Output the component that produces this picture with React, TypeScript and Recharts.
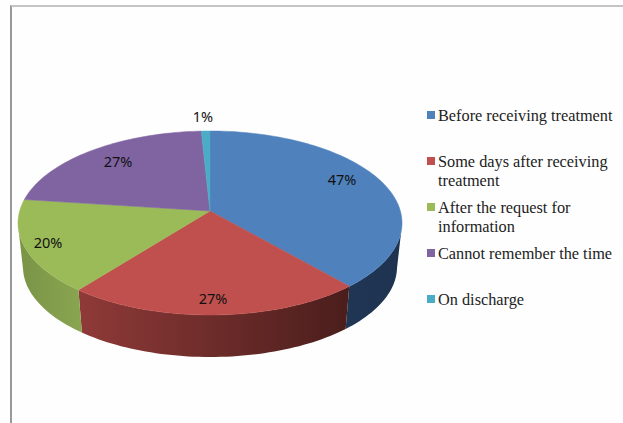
import React from 'react';
import { PieChart, Pie, Legend } from 'recharts';

const categories = [
  'Before receiving treatment',
  'Some days after receiving treatment',
  'After the request for information',
  'Cannot remember the time',
  'On discharge',
];
const values = [47, 27, 20, 27, 1];
const colors = ['#4f81bd', '#c0504d', '#9bbb59', '#8064a2', '#4bacc6'];
const wallLeft = ['#1f3654', '#8f3a38', '#7a9447', '#5c4876', '#35849a'];
const wallRight = ['#1e3350', '#4a1e1c', '#8aa550', '#5c4876', '#35849a'];

// label centres, the way the original chart placed them by hand
const labelSpots = [
  [342, 179],
  [213, 298],
  [48, 242],
  [118, 161],
  [203, 116],
];

const rows = categories.map((name, i) => ({ name, value: values[i], fill: colors[i] }));

const CX = 210;
const CY = 223;
const RX = 192;
const RY = 92;
const TILT = -0.13; // perspective: where the circle's centre lands on the ellipse
const BOTTOM_RX = 187;
const BOTTOM_RY = 90;
const DEPTH = 44;

// unit circle angle -> point on the tilted ellipse, normalised
const project = (deg: number) => {
  const x = Math.cos((deg * Math.PI) / 180);
  const y = -Math.sin((deg * Math.PI) / 180);
  const d = 1 + TILT * y;
  return { x: (x * Math.sqrt(1 - TILT * TILT)) / d, y: (y + TILT) / d };
};

const sampleAngles = (start: number, end: number) => {
  const steps = Math.max(2, Math.ceil(Math.abs(end - start) / 1.5));
  const out: number[] = [];
  for (let i = 0; i <= steps; i++) out.push(start + ((end - start) * i) / steps);
  return out;
};

const TopFace = (props: any) => {
  const { cx, cy, startAngle, endAngle, fill, outerRadius } = props;
  const ratio = RY / RX;
  const pts = sampleAngles(startAngle, endAngle).map((a) => {
    const p = project(a);
    return `${cx + p.x * outerRadius},${cy + p.y * outerRadius * ratio}`;
  });
  const apexY = cy + TILT * outerRadius * ratio;
  return <path d={`M${cx},${apexY}L${pts.join('L')}Z`} fill={fill} stroke={fill} strokeWidth={0.5} />;
};

const WallFace = (props: any) => {
  const { cx, cy, startAngle, endAngle, outerRadius, index } = props;
  const ratio = RY / RX;
  const near = sampleAngles(startAngle, endAngle)
    .map(project)
    .filter((p) => p.y >= 0);
  if (near.length < 2) return <g />;
  const top = near.map((p) => `${cx + p.x * outerRadius},${cy + p.y * outerRadius * ratio}`);
  const bottom = near
    .map((p) => `${cx + p.x * BOTTOM_RX},${cy + DEPTH + p.y * BOTTOM_RY}`)
    .reverse();
  const id = `wall-${index}`;
  return (
    <g>
      <defs>
        <linearGradient id={id} x1="0" y1="0" x2="1" y2="0">
          <stop offset="0%" stopColor={wallLeft[index]} />
          <stop offset="100%" stopColor={wallRight[index]} />
        </linearGradient>
      </defs>
      <path d={`M${top.join('L')}L${bottom.join('L')}Z`} fill={`url(#${id})`} />
    </g>
  );
};

const renderLabel = (props: any) => {
  const { index, value } = props;
  return (
    <text
      x={labelSpots[index][0]}
      y={labelSpots[index][1]}
      textAnchor="middle"
      dominantBaseline="central"
      fontFamily="'Noto Sans', sans-serif"
      fontSize={14.5}
      fill="#111"
    >
      {`${value}%`}
    </text>
  );
};

const LegendList = ({ payload }: any) => {
  // two Pie series feed the legend, keep one entry per category
  const seen = new Set<string>();
  const entries = (payload || []).filter((entry: any) => {
    if (seen.has(entry.value)) return false;
    seen.add(entry.value);
    return true;
  });
  return (
    <div style={{ fontFamily: "'Liberation Serif', serif", fontSize: 16.3, lineHeight: '19px', color: '#222' }}>
      {entries.map((entry: any) => (
        <div key={entry.value} style={{ position: 'relative', height: 46, paddingLeft: 11 }}>
          <span
            style={{ position: 'absolute', left: 0, top: 5, width: 8, height: 8, background: entry.color }}
          />
          {entry.value}
        </div>
      ))}
    </div>
  );
};

export default function App() {
  return (
    <div style={{ position: 'absolute', left: 0, top: 0, width: 623, height: 423, background: '#fefefe', overflow: 'hidden' }}>
      <div style={{ position: 'absolute', left: 10, top: 5, width: 613, height: 418, borderLeft: '2px solid #999', borderTop: '2px solid #c4c4c4', boxSizing: 'border-box' }} />
      <PieChart width={623} height={423} margin={{ top: 0, right: 0, bottom: 0, left: 0 }} style={{ position: 'absolute', left: 0, top: 0 }}>
        <Pie
          data={rows}
          dataKey="value"
          nameKey="name"
          cx={CX}
          cy={CY}
          outerRadius={RX}
          startAngle={90}
          endAngle={-270}
          stroke="none"
          legendType="none"
          shape={WallFace}
          isAnimationActive={false}
        />
        <Pie
          data={rows}
          dataKey="value"
          nameKey="name"
          cx={CX}
          cy={CY}
          outerRadius={RX}
          startAngle={90}
          endAngle={-270}
          stroke="none"
          shape={TopFace}
          label={renderLabel}
          labelLine={false}
          isAnimationActive={false}
        />
        <Legend
          layout="vertical"
          align="right"
          verticalAlign="top"
          itemSorter={null}
          content={<LegendList />}
          wrapperStyle={{ position: 'absolute', left: 427, top: 106, width: 190, height: 240 }}
        />
      </PieChart>
    </div>
  );
}
